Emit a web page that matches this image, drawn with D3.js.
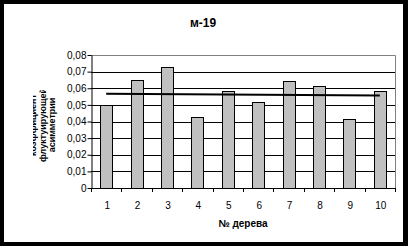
<!DOCTYPE html>
<html>
<head>
<meta charset="utf-8">
<script src="https://cdn.jsdelivr.net/npm/d3@7"></script>
<style>
  body { margin: 0; background: #000; }
  svg { display: block; font-family: "Liberation Sans", Arial, sans-serif; }
</style>
</head>
<body>
<div id="container"></div>
<script>
const WIDTH = 408;
const HEIGHT = 246;
const PLOT = {left: 91, right: 395, top: 55, bottom: 188};

var TREES = ["1", "2", "3", "4", "5", "6", "7", "8", "9", "10"];
var VALUES = [0.050, 0.065, 0.0727, 0.0426, 0.0582, 0.0516, 0.0643, 0.0613, 0.0414, 0.0582];
var TREND = [{x: "1", y: 0.0567}, {x: "10", y: 0.0556}];
var Y_TICKS = [0, 0.01, 0.02, 0.03, 0.04, 0.05, 0.06, 0.07, 0.08];
var TITLE = "м-19";
var X_TITLE = "№ дерева";
var Y_TITLE = ["коэффициент", "флуктуирующей", "асимметрии"];

var XScale = d3.scaleBand()
    .domain(TREES)
    .range([PLOT.left, PLOT.right])
    .paddingInner(0.6)
    .paddingOuter(0.3);

var YScale = d3.scaleLinear()
    .domain([0, 0.08])
    .range([PLOT.bottom, PLOT.top]);

var fmt = function (d) {
    return d === 0 ? "0" : d3.format(".2f")(d).replace(".", ",");
};

var svg = d3.select("#container").append("svg")
    .attr("width", WIDTH)
    .attr("height", HEIGHT);

// frame
svg.append("rect").attr("width", WIDTH).attr("height", HEIGHT).attr("fill", "#000");
svg.append("rect").attr("x", 4).attr("y", 4).attr("width", 399).attr("height", 238).attr("fill", "#fff");

// grid lines
svg.append("g").selectAll("line")
    .data(Y_TICKS.filter(function (d) { return d > 0 && d < 0.08; }))
    .enter().append("line")
    .attr("x1", PLOT.left).attr("x2", PLOT.right)
    .attr("y1", function (d) { return Math.round(YScale(d)) + 0.5; })
    .attr("y2", function (d) { return Math.round(YScale(d)) + 0.5; })
    .attr("stroke", "#000");

// plot border top/right
svg.append("path")
    .attr("d", "M" + PLOT.left + "," + (PLOT.top + 0.5) + "H" + (PLOT.right + 0.5) + "V" + PLOT.bottom)
    .attr("fill", "none")
    .attr("stroke", "#808080");

// bars
svg.append("g").selectAll("rect")
    .data(VALUES)
    .enter().append("rect")
    .attr("x", function (d, i) { return Math.round(XScale(TREES[i])) + 0.5; })
    .attr("y", function (d) { return Math.round(YScale(d)) + 0.5; })
    .attr("width", Math.round(XScale.bandwidth()))
    .attr("height", function (d) { return Math.round(YScale(0)) - Math.round(YScale(d)); })
    .attr("fill", "#c0c0c0")
    .attr("stroke", "#000");

// trend line
var line = d3.line()
    .x(function (d) { return XScale(d.x) + XScale.bandwidth() / 2; })
    .y(function (d) { return YScale(d.y); });

svg.append("path")
    .datum(TREND)
    .attr("d", line)
    .attr("fill", "none")
    .attr("stroke", "#000")
    .attr("stroke-width", 2);

// y axis
var yAxis = d3.axisLeft(YScale)
    .tickValues(Y_TICKS)
    .tickFormat(fmt)
    .tickSize(4)
    .tickSizeOuter(0);

var gy = svg.append("g")
    .attr("transform", "translate(" + (PLOT.left + 0.5) + ",0)")
    .call(yAxis);
gy.selectAll("text").attr("font-size", 10).attr("font-family", "Liberation Sans, Arial").attr("fill", "#000").attr("x", -5);
gy.selectAll("line, path").attr("stroke", "#000");

// x axis: ticks between categories
var step = XScale.step();
var xTicks = d3.range(TREES.length + 1).map(function (i) { return PLOT.left + i * step; });
var gx = svg.append("g");
gx.append("line")
    .attr("x1", PLOT.left).attr("x2", PLOT.right + 1)
    .attr("y1", PLOT.bottom + 0.5).attr("y2", PLOT.bottom + 0.5)
    .attr("stroke", "#000");
gx.selectAll(".tick")
    .data(xTicks)
    .enter().append("line")
    .attr("x1", function (d) { return Math.round(d) + 0.5; })
    .attr("x2", function (d) { return Math.round(d) + 0.5; })
    .attr("y1", PLOT.bottom).attr("y2", PLOT.bottom + 4)
    .attr("stroke", "#000");
gx.selectAll("text")
    .data(TREES)
    .enter().append("text")
    .attr("x", function (d) { return XScale(d) + XScale.bandwidth() / 2 + 1; })
    .attr("y", 209)
    .attr("text-anchor", "middle")
    .attr("font-size", 10)
    .text(function (d) { return d; });

// titles
svg.append("text")
    .attr("x", 203).attr("y", 27)
    .attr("text-anchor", "middle")
    .attr("font-size", 12)
    .attr("font-weight", "bold")
    .text(TITLE);

svg.append("text")
    .attr("x", (PLOT.left + PLOT.right) / 2).attr("y", 227)
    .attr("text-anchor", "middle")
    .attr("font-size", 10)
    .attr("font-weight", "bold")
    .text(X_TITLE);

// y title, clipped like the original box
svg.append("clipPath").attr("id", "ytclip")
    .append("rect").attr("x", 33).attr("y", 90).attr("width", 28).attr("height", 80);

var yt = svg.append("g").attr("clip-path", "url(#ytclip)")
    .append("text")
    .attr("transform", "translate(0,125) rotate(-90)")
    .attr("text-anchor", "middle")
    .attr("font-size", 9)
    .attr("font-weight", "bold");
yt.selectAll("tspan")
    .data(Y_TITLE)
    .enter().append("tspan")
    .attr("x", 0)
    .attr("y", function (d, i) { return 36 + i * 9.5; })
    .text(function (d) { return d; });
</script>
</body>
</html>
